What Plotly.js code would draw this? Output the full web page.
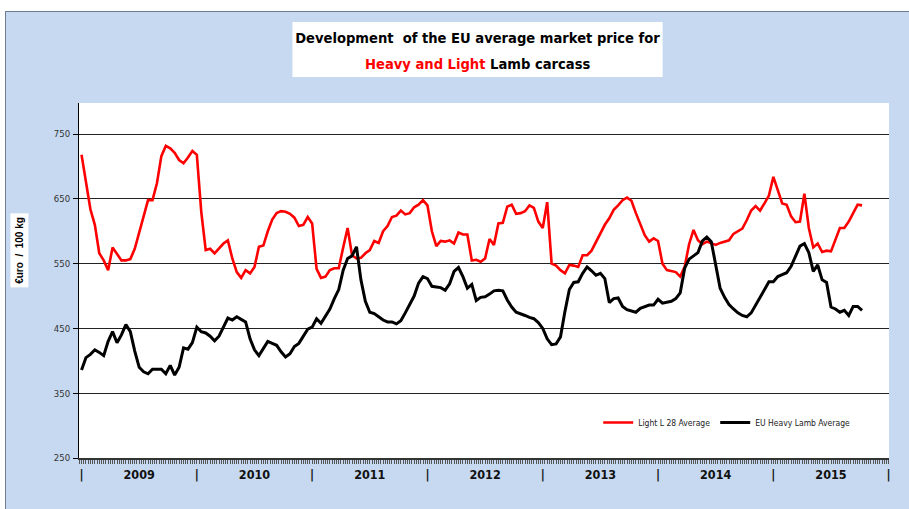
<!DOCTYPE html>
<html>
<head>
<meta charset="utf-8">
<script src="https://cdn.plot.ly/plotly-3.0.1.min.js"></script>
<style>
html,body{margin:0;padding:0;background:#ffffff;overflow:hidden;}
#wrap{position:absolute;left:5px;top:11px;width:904px;height:498px;background:#c6d9f0;border-top:1px solid #6f7d92;border-left:1px solid #6f7d92;box-sizing:border-box;}
#chart{position:absolute;left:0;top:0;width:903px;height:497px;}
</style>
</head>
<body>
<div id="wrap"><div id="chart"></div></div>
<script>
// Year labels on the x axis
const yearLabels = ['2009', '2010', '2011', '2012', '2013', '2014', '2015'];
const firstYear = 2009;
const weeksPerYear = 52;
const weeksPerPoint = 2; // one reading every two weeks

// Light L 28 Average (euro / 100 kg), read every two weeks from week 1 of 2009
const lightL28 = [
  718, 677, 634, 610, 566, 555, 540, 575, 564, 555,
  555, 557, 573, 597, 622, 648, 648, 674, 716, 732,
  728, 721, 710, 705, 714, 724, 718, 630, 571, 573,
  566, 573, 581, 586, 558, 537,
  528, 540, 535, 545,
  576, 578, 600, 618, 628, 631, 630, 627, 621, 608,
  610, 622, 612, 542, 528, 530, 540, 543, 543, 575,
  605, 563, 558, 559, 566, 571, 585, 582, 600, 608,
  622, 624, 632, 626, 628, 637, 641, 648, 640, 600,
  577, 585, 584, 586, 581, 598, 595, 595, 555, 556,
  553, 558, 588, 579, 612, 613, 638, 641, 627, 628,
  631, 640, 636, 615, 605, 645, 550, 547, 540, 535,
  548, 547, 545, 563, 563, 570, 583, 595, 610, 620,
  633, 640, 648, 652, 647, 628, 612, 594, 584, 589,
  585, 550, 540, 538, 537, 530, 545, 580, 602, 586,
  580, 584, 582, 579, 582, 584, 586, 596, 600, 604,
  617, 632, 639, 632, 643, 655, 684, 665, 643, 641,
  623, 614, 615, 658, 605, 575, 581, 568, 570, 569,
  586, 605, 605, 615, 628, 641, 640
];

// EU Heavy Lamb Average (euro / 100 kg), same dates
const heavyLamb = [
  386, 405, 410, 417, 413, 408, 430, 445, 428, 440,
  456, 445, 415, 390, 383, 380, 387, 387, 387, 380,
  393, 378, 390, 420, 418, 428, 452, 445, 443, 438,
  431, 438, 452, 466, 463, 468,
  464, 460, 434, 417,
  408, 420, 430, 427, 424, 414, 406, 411, 422, 427,
  438, 449, 452, 465, 458, 469, 480, 496, 510, 540,
  558, 562, 576, 525, 492, 475, 473, 468, 463, 460,
  460, 457, 462, 474, 488, 500, 520, 530, 527, 515,
  514, 513, 509, 519, 538, 544, 530, 512, 518, 493,
  498, 499, 503, 508, 509, 508, 494, 483, 475, 473,
  470, 467, 465, 459, 450, 434, 425, 426, 437, 476,
  510, 521, 522, 535, 545, 539, 532, 535, 527, 490,
  496, 497, 484, 479, 477, 475, 481, 483, 486, 486,
  495, 489, 490, 492, 496, 505, 543, 557, 562, 567,
  585, 591, 584, 550, 512, 498, 487, 480, 474, 470,
  468, 474, 486, 499, 510, 522, 522, 530, 533, 536,
  546, 563, 577, 581, 567, 538, 548, 525, 521, 483,
  480, 475, 478, 470, 484, 484, 478
];

// y axis ticks
const yTicks = [250, 350, 450, 550, 650, 750];

// positions of readings on a fractional-year axis
const xPos = lightL28.map((_, i) => firstYear + i * weeksPerPoint / weeksPerYear);

// x ticks: separators at year boundaries, labels at mid-year
const tickVals = [];
const tickText = [];
yearLabels.forEach((lab, i) => {
  tickVals.push(firstYear + i); tickText.push('|');
  tickVals.push(firstYear + i + 0.5); tickText.push(lab);
});
tickVals.push(firstYear + yearLabels.length); tickText.push('|');

const narrow = '"Liberation Sans Narrow", "Arial Narrow", "DejaVu Sans Condensed", sans-serif';

const traces = [
  {
    x: xPos, y: lightL28, type: 'scatter', mode: 'lines',
    name: 'Light L 28 Average',
    line: {color: '#ff0000', width: 2.6}
  },
  {
    x: xPos, y: heavyLamb, type: 'scatter', mode: 'lines',
    name: 'EU Heavy Lamb Average',
    line: {color: '#000000', width: 3}
  }
];

const layout = {
  width: 903, height: 497,
  margin: {l: 73, r: 20, t: 91, b: 51, pad: 0},
  paper_bgcolor: '#c6d9f0',
  plot_bgcolor: '#ffffff',
  showlegend: true,
  title: {
    text: 'Development  of the EU average market price for',
    font: {family: narrow, size: 14.6, color: '#000000', weight: 'bold'},
    xref: 'container', yref: 'container',
    x: 0.5221, y: 0.9487, xanchor: 'center', yanchor: 'middle'
  },
  legend: {
    orientation: 'h',
    x: 0.641, y: 0.1, xanchor: 'left', yanchor: 'middle',
    bgcolor: 'rgba(0,0,0,0)',
    font: {family: narrow, size: 8.5, color: '#222222'},
    itemwidth: 30
  },
  xaxis: {
    range: [firstYear - 0.022, firstYear + yearLabels.length + 0.003],
    tickmode: 'array', tickvals: tickVals, ticktext: tickText,
    ticks: '', showgrid: false, zeroline: false,
    showline: true, linecolor: '#333333', linewidth: 2,
    tickfont: {family: narrow, size: 12.5, color: '#111111', weight: 'bold'},
    ticklabelstandoff: 4,
    minor: {ticks: 'outside', ticklen: 4, tickwidth: 1, tickcolor: '#555555',
            dtick: 1 / weeksPerYear, tick0: firstYear, showgrid: false}
  },
  yaxis: {
    range: [250, 798],
    tickmode: 'array', tickvals: yTicks, ticktext: yTicks.map(String),
    ticks: 'outside', ticklen: 5, tickcolor: '#000000', tickwidth: 1,
    showgrid: true, gridcolor: '#222222', gridwidth: 1,
    zeroline: false, showline: true, linecolor: '#000000', linewidth: 1,
    tickfont: {family: narrow, size: 9.5, color: '#333333'},
    ticklabelstandoff: 1
  },
  shapes: [
    {type: 'rect', xref: 'paper', yref: 'paper', layer: 'above',
     x0: 0.2635, x1: 0.7205, y0: 1.073, y1: 1.228,
     fillcolor: '#ffffff', line: {width: 0}}
  ],
  annotations: [
    {text: '<span style="color:#ff0000">Heavy and Light</span> Lamb carcass',
     xref: 'paper', yref: 'paper', x: 0.492, y: 1.1115,
     xanchor: 'center', yanchor: 'middle', showarrow: false,
     font: {family: narrow, size: 14.6, color: '#000000', weight: 'bold'}},
    {text: '€uro  /  100 kg', xref: 'paper', yref: 'paper',
     x: -0.073, y: 0.586, xanchor: 'center', yanchor: 'middle',
     textangle: -90, showarrow: false, bgcolor: '#ffffff', borderpad: 3,
     font: {family: '"Liberation Sans", Arial, sans-serif', size: 10, color: '#000000', weight: 'bold'}}
  ]
};

Plotly.newPlot('chart', traces, layout, {displayModeBar: false, staticPlot: true});
</script>
</body>
</html>
